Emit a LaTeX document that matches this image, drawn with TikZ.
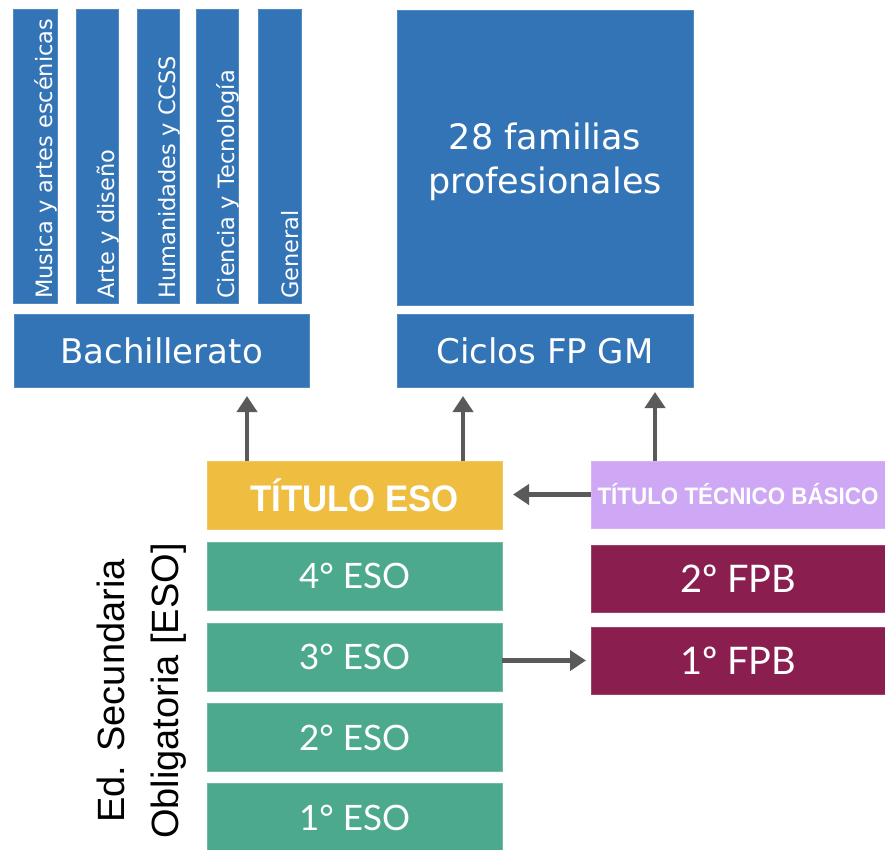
\documentclass[tikz,border=0pt]{standalone}
\usepackage{fontspec}
\setmainfont{DejaVu Sans}
\newfontfamily\latofont{Lato}
\newfontfamily\helv{Liberation Sans}
\newfontfamily\condbold[FakeStretch=0.94]{Liberation Sans Bold}
\usetikzlibrary{arrows.meta}
\definecolor{cblue}{HTML}{3374B6}
\definecolor{cyellow}{HTML}{EFBD40}
\definecolor{clilac}{HTML}{CFA8F5}
\definecolor{cmaroon}{HTML}{8A1F4F}
\definecolor{cgreen}{HTML}{4CA98E}
\definecolor{cgray}{HTML}{5A5A5A}
\tikzset{
  box/.style={rectangle, inner sep=0pt, outer sep=0pt, text=white, align=center, line width=0.8pt},
  bluebox/.style={box, fill=cblue, draw=cblue!85!white, font=\fontsize{34}{44}\selectfont},
  greenbox/.style={box, fill=cgreen, draw=cgreen!80!white, minimum width=295pt, minimum height=68pt, font=\latofont\fontsize{35}{40}\selectfont},
  fpbbox/.style={box, fill=cmaroon, draw=cmaroon!85!white, minimum width=294pt, minimum height=67pt, font=\latofont\fontsize{38}{40}\selectfont},
  vbox/.style={box, fill=cblue, draw=cblue!85!white, minimum height=294pt},
  vlabel/.style={rotate=90, anchor=west, inner sep=0pt, text=white, font=\fontsize{22.5}{26}\selectfont},
  arr/.style={draw=cgray, line width=4.5pt, -{Triangle[length=16pt,width=20pt]}},
}
\begin{document}
\begin{tikzpicture}[x=1pt,y=-1pt]
\useasboundingbox (0,0) rectangle (885,850);
% Bachillerato branches
\node[vbox, minimum width=44pt] (m1) at (35,156) {};
\node[vbox, minimum width=42pt] (m2) at (97,156) {};
\node[vbox, minimum width=42pt] (m3) at (158,156) {};
\node[vbox, minimum width=42pt] (m4) at (217,156) {};
\node[vbox, minimum width=43pt] (m5) at (279.5,156) {};
\node[vlabel] (l1) at (46,299) {Musica y artes escénicas};
\node[vlabel] (l2) at (108,299) {Arte y diseño};
\node[vlabel] (l3) at (169,299) {Humanidades y CCSS};
\node[vlabel] (l4) at (228,299) {Ciencia y Tecnología};
\node[vlabel] (l5) at (290.5,299) {General};
\node[bluebox, minimum width=295pt, minimum height=73pt] (bach) at (161.5,350.5) {Bachillerato};
% FP
\node[bluebox, minimum width=296pt, minimum height=295pt] (fam) at (545,157.5) {};
\node[box, font=\fontsize{35}{44}\selectfont] (famtext) at (545,162) {28 familias\\profesionales};
\node[bluebox, minimum width=296pt, minimum height=73pt] (ciclos) at (545,350.5) {Ciclos FP GM};
% Titles
\node[box, fill=cyellow, draw=cyellow!85!white, minimum width=295pt, minimum height=68pt, font=\condbold\fontsize{37}{40}\selectfont] (teso) at (354.5,495) {TÍTULO ESO};
\node[box, fill=clilac, draw=clilac!85!white, minimum width=294pt, minimum height=67pt, font=\condbold\fontsize{23.8}{30}\selectfont] (ttec) at (738,494.5) {TÍTULO TÉCNICO BÁSICO};
% ESO
\node[greenbox] (eso4) at (354.5,576) {4° ESO};
\node[greenbox] (eso3) at (354.5,657) {3° ESO};
\node[greenbox] (eso2) at (354.5,737.5) {2° ESO};
\node[greenbox] (eso1) at (354.5,817.5) {1° ESO};
% FPB
\node[fpbbox] (fpb2) at (738,578.5) {2º FPB};
\node[fpbbox] (fpb1) at (738,660.5) {1º FPB};
% Side label
\node[rotate=90, align=center, inner sep=0pt, text=black, font=\helv\fontsize{38}{54}\selectfont] (lab) at (142,691) {Ed. Secundaria\\Obligatoria [ESO]};
% Arrows
\coordinate (a1) at (247,396);
\coordinate (a2) at (463,396);
\coordinate (a3) at (655,392);
\coordinate (a4) at (513,494.5);
\coordinate (a5) at (586,660.5);
\draw[arr] (teso.north -| a1) -- (a1);
\draw[arr] (teso.north -| a2) -- (a2);
\draw[arr] (ttec.north -| a3) -- (a3);
\draw[arr] (ttec.west) -- (a4);
\draw[arr] (eso3.east |- a5) -- (a5);
\end{tikzpicture}
\end{document}
